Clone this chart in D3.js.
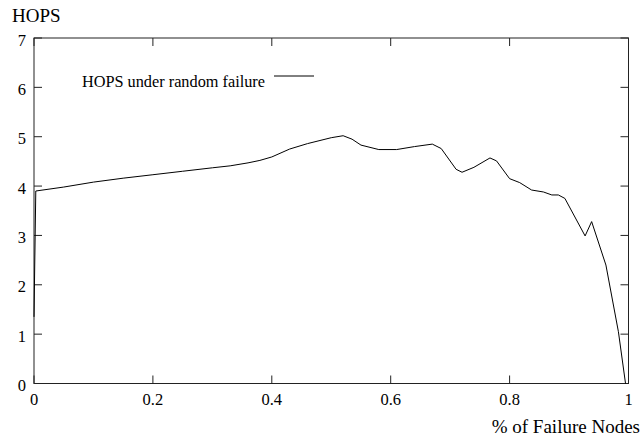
<!DOCTYPE html>
<html>
<head>
<meta charset="utf-8">
<script src="https://cdn.jsdelivr.net/npm/d3@7"></script>
<style>
  body { margin: 0; background: #fff; }
  svg text { font-family: "Liberation Serif", "Times New Roman", serif; fill: #000; }
</style>
</head>
<body>
<svg id="chart" width="642" height="439"></svg>
<script>
// fraction of failed nodes vs. average hops
const failure = [0, 0.003, 0.05, 0.1, 0.15, 0.2, 0.25, 0.3, 0.33, 0.36, 0.38, 0.4, 0.43, 0.46, 0.5, 0.52, 0.535,
  0.55, 0.58, 0.61, 0.64, 0.67, 0.685, 0.71, 0.72, 0.74, 0.767, 0.778, 0.8, 0.817, 0.837, 0.857,
  0.871, 0.882, 0.893, 0.927, 0.938, 0.962, 0.983, 0.995];
const hops = [1.35, 3.9, 3.98, 4.08, 4.16, 4.23, 4.30, 4.37, 4.41, 4.47, 4.52, 4.59, 4.75, 4.86, 4.98, 5.02, 4.95,
  4.83, 4.74, 4.74, 4.8, 4.85, 4.76, 4.34, 4.28, 4.38, 4.57, 4.51, 4.15, 4.07, 3.92, 3.88,
  3.82, 3.82, 3.75, 2.99, 3.28, 2.40, 1.05, 0];
const xTicks = [0, 0.2, 0.4, 0.6, 0.8, 1];
const yTicks = [0, 1, 2, 3, 4, 5, 6, 7];

const svg = d3.select("#chart");
const plotL = 34, plotR = 628.5, plotT = 38, plotB = 383.5;
const tickLen = 8;
const tickFont = 16.5;
const titleFont = 19;
const legendFont = 16.3;

const x = d3.scaleLinear().domain([0, 1]).range([plotL, plotR]);
const y = d3.scaleLinear().domain([0, 7]).range([plotB, plotT]);

const fmt = d => d === 0 || d === 1 ? String(d) : d3.format(".1f")(d);

// frame
svg.append("rect")
    .attr("x", plotL).attr("y", plotT)
    .attr("width", plotR - plotL).attr("height", plotB - plotT)
    .attr("fill", "none").attr("stroke", "#222").attr("stroke-width", 1);

// x ticks (bottom and mirrored top), pointing inward
const gx = svg.append("g").attr("class", "x-ticks");
xTicks.forEach(t => {
    gx.append("line").attr("x1", x(t)).attr("x2", x(t))
        .attr("y1", plotB).attr("y2", plotB - tickLen).attr("stroke", "#222");
    gx.append("line").attr("x1", x(t)).attr("x2", x(t))
        .attr("y1", plotT).attr("y2", plotT + tickLen).attr("stroke", "#222");
    gx.append("text").attr("x", x(t)).attr("y", plotB + 21)
        .attr("text-anchor", "middle").attr("font-size", tickFont).text(fmt(t));
});

// y ticks (left and mirrored right)
const gy = svg.append("g").attr("class", "y-ticks");
yTicks.forEach(t => {
    gy.append("line").attr("x1", plotL).attr("x2", plotL + tickLen)
        .attr("y1", y(t)).attr("y2", y(t)).attr("stroke", "#222");
    gy.append("line").attr("x1", plotR).attr("x2", plotR - tickLen)
        .attr("y1", y(t)).attr("y2", y(t)).attr("stroke", "#222");
    gy.append("text").attr("x", 26).attr("y", y(t) + 7.5)
        .attr("text-anchor", "end").attr("font-size", tickFont).text(t);
});

// axis titles
svg.append("text").attr("x", 12).attr("y", 22)
    .attr("font-size", titleFont).text("HOPS");
svg.append("text").attr("x", 640).attr("y", 433)
    .attr("text-anchor", "end").attr("font-size", titleFont).text("% of Failure Nodes");

// the curve
const line = d3.line()
    .x((d, i) => x(failure[i]))
    .y(d => y(d));

svg.append("path")
    .datum(hops)
    .attr("d", line)
    .attr("fill", "none")
    .attr("stroke", "#000")
    .attr("stroke-width", 1);

// legend
svg.append("text").attr("x", 265).attr("y", 86.5)
    .attr("text-anchor", "end").attr("font-size", legendFont).text("HOPS under random failure");
svg.append("line").attr("x1", 274).attr("x2", 314).attr("y1", 76).attr("y2", 76)
    .attr("stroke", "#000");
</script>
</body>
</html>
